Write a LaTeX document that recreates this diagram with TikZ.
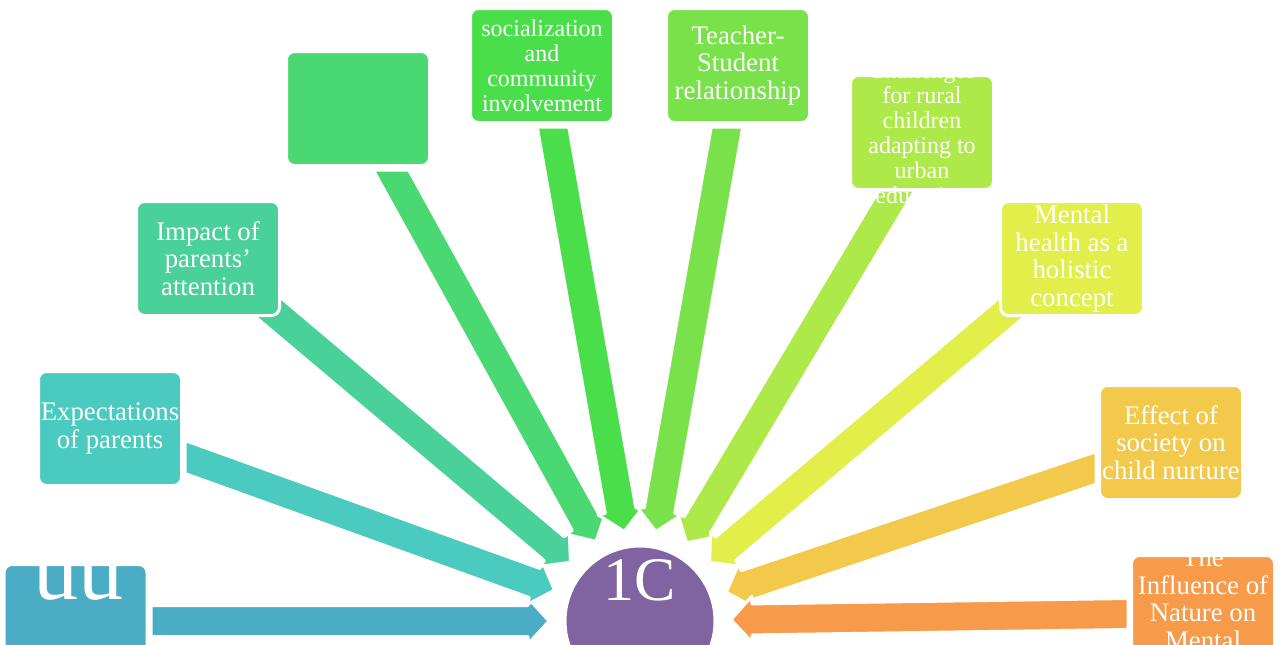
\documentclass[tikz,border=0pt]{standalone}
\usepackage{fontspec}
\setmainfont{Liberation Serif}
\usetikzlibrary{calc}
\definecolor{c1}{HTML}{4BACC6}
\definecolor{c2}{HTML}{4BCBBF}
\definecolor{c3}{HTML}{4AD19A}
\definecolor{c4}{HTML}{4AD872}
\definecolor{c5}{HTML}{4ADE4A}
\definecolor{c6}{HTML}{79E24A}
\definecolor{c7}{HTML}{AEE94A}
\definecolor{c8}{HTML}{E2EE4A}
\definecolor{c9}{HTML}{F2C94A}
\definecolor{c10}{HTML}{F79A4A}
\definecolor{chub}{HTML}{8064A2}

\begin{document}
\begin{tikzpicture}[x=0.5pt,y=-0.5pt,
  box/.style={rounded corners=4pt,draw=white,line width=1.5pt,minimum width=71.5pt,minimum height=57pt,
    inner sep=0pt,text=white,align=center,font=\fontsize{13.4}{13.75}\selectfont},
  lbl/.style={text=white,align=center,inner sep=0pt,font=\fontsize{13.4}{13.75}\selectfont},
  small/.style={font=\fontsize{12}{12.5}\selectfont},
  % block arrow, #1 is the half cut of its tail
  spoke/.style={draw=white,line width=1.5pt,line join=round,
    to path={let \p1=(\tikztostart),\p2=(\tikztotarget),
      \n1={atan2(\y2-\y1,\x2-\x1)},\p3=($(\p2)!10.5pt!(\p1)$),\p4=#1 in
      ($(\p1)+(\p4)$) -- ($(\p3)+(\n1+90:7.75pt)$) -- ($(\p3)+(\n1+90:11.5pt)$)
      -- (\p2) -- ($(\p3)+(\n1-90:11.5pt)$) -- ($(\p3)+(\n1-90:7.75pt)$)
      -- ($(\p1)-(\p4)$) -- cycle}},
  hspoke/.style={spoke={({-7.75pt/sin(\n1)},0pt)}},
  vspoke/.style={spoke={(0pt,{7.75pt/cos(\n1)})}}]
  \useasboundingbox (0,0) rectangle (1280,644);
  \clip (0,0) rectangle (1280,644);

  \node[circle,fill=chub,draw=white,line width=0.5pt,minimum size=74pt,inner sep=0pt] (hub) at (640,621) {};

  % spoke ends
  \coordinate (s1) at (151,621);
  \coordinate (s2) at (185,457);
  \coordinate (s3) at (250,292);
  \coordinate (s4) at (391,170);
  \coordinate (s5) at (553,127);
  \coordinate (s6) at (727,127);
  \coordinate (s7) at (897,190);
  \coordinate (s8) at (1030,292);
  \coordinate (s9) at (1096,468);
  \coordinate (s10) at (1128,614);
  \foreach \i in {1,...,10}
    \coordinate (t\i) at ($(hub.center)!45.5pt!(s\i)$);

  \draw[vspoke,fill=c1] (s1) to (t1);
  \draw[vspoke,fill=c2] (s2) to (t2);
  \draw[hspoke,fill=c3] (s3) to (t3);
  \draw[hspoke,fill=c4] (s4) to (t4);
  \draw[hspoke,fill=c5] (s5) to (t5);
  \draw[hspoke,fill=c6] (s6) to (t6);
  \draw[hspoke,fill=c7] (s7) to (t7);
  \draw[hspoke,fill=c8] (s8) to (t8);
  \draw[vspoke,fill=c9] (s9) to (t9);
  \draw[vspoke,fill=c10] (s10) to (t10);

  % boxes round the hub
  \node[box,fill=c1] (uu) at (75.5,621.5) {};
  \node[box,fill=c2] (expect) at (110,428.5) {Expectations\\of parents};
  \node[box,fill=c3] (impact) at (208,258.5) {Impact of\\parents’\\attention};
  \node[box,fill=c4] (blank) at (358,108.5) {};
  \node[box,fill=c5,small] (social) at (542,65.5) {socialization\\and\\community\\involvement};
  \node[box,fill=c6] (teacher) at (738,65.5) {Teacher-\\Student\\relationship};
  \node[box,fill=c7] (rural) at (922,132.5) {};
  \node[box,fill=c8] (mental) at (1072,258.5) {Mental\\health as a\\holistic\\concept};
  \node[box,fill=c9] (society) at (1171,442.5) {Effect of\\society on\\child nurture};
  \node[box,fill=c10] (nature) at (1203,612.5) {};

  % texts that run past their boxes
  \node[lbl,font=\fontsize{45}{45}\selectfont,anchor=base] (uutext) at (78,599) {uu};
  \node[lbl,small] (ruraltext) at (rural) {Challenges\\for rural\\children\\adapting to\\urban\\education};
  \node[lbl,yshift=6.875pt] (naturetext) at (nature) {The\\Influence of\\Nature on\\Mental};
  \node[lbl,font=\fontsize{31}{31}\selectfont,anchor=base] (hubtext) at (640,600) {1C};
\end{tikzpicture}
\end{document}
